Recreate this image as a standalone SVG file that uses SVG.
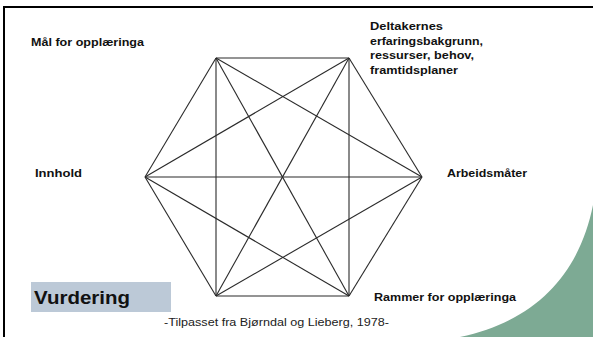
<svg xmlns="http://www.w3.org/2000/svg" width="593" height="337" viewBox="0 0 593 337">
<style>
.lbl{font-family:"Liberation Sans",Arial,sans-serif;font-weight:bold;font-size:11px;fill:#111}
.edge{stroke:#2a2a2a;stroke-width:1.1;fill:none}
.cite{font-family:"Liberation Sans",Arial,sans-serif;font-size:11px;fill:#222}
</style>
<rect width="593" height="337" fill="#fff"/>
<path d="M593,205 C580,270 540,320 460,337 L593,337 Z" fill="#7daa94"/>
<path d="M4,337 V7 H593" fill="none" stroke="#000" stroke-width="2"/>
<g id="connectors">
<line class="edge" x1="216" y1="58" x2="349" y2="58"/>
<line class="edge" x1="349" y1="58" x2="422" y2="177"/>
<line class="edge" x1="422" y1="177" x2="349" y2="296"/>
<line class="edge" x1="349" y1="296" x2="216" y2="296"/>
<line class="edge" x1="216" y1="296" x2="145" y2="177"/>
<line class="edge" x1="145" y1="177" x2="216" y2="58"/>
<line class="edge" x1="216" y1="58" x2="349" y2="296"/>
<line class="edge" x1="349" y1="58" x2="216" y2="296"/>
<line class="edge" x1="145" y1="177" x2="422" y2="177"/>
<line class="edge" x1="216" y1="58" x2="422" y2="177"/>
<line class="edge" x1="216" y1="58" x2="216" y2="296"/>
<line class="edge" x1="349" y1="58" x2="145" y2="177"/>
<line class="edge" x1="349" y1="58" x2="349" y2="296"/>
<line class="edge" x1="145" y1="177" x2="349" y2="296"/>
<line class="edge" x1="422" y1="177" x2="216" y2="296"/>
</g>
<g id="node-maal"><text class="lbl" x="31" y="46" textLength="113" lengthAdjust="spacingAndGlyphs">Mål for opplæringa</text></g>
<g id="node-deltakernes">
<text class="lbl" x="370" y="30" textLength="73" lengthAdjust="spacingAndGlyphs">Deltakernes</text>
<text class="lbl" x="370" y="45" textLength="113" lengthAdjust="spacingAndGlyphs">erfaringsbakgrunn,</text>
<text class="lbl" x="370" y="59" textLength="104" lengthAdjust="spacingAndGlyphs">ressurser, behov,</text>
<text class="lbl" x="370" y="74" textLength="88" lengthAdjust="spacingAndGlyphs">framtidsplaner</text>
</g>
<g id="node-innhold"><text class="lbl" x="35" y="177" textLength="47" lengthAdjust="spacingAndGlyphs">Innhold</text></g>
<g id="node-arbeidsmaater"><text class="lbl" x="447" y="177" textLength="80" lengthAdjust="spacingAndGlyphs">Arbeidsmåter</text></g>
<g id="node-rammer"><text class="lbl" x="374" y="301" textLength="142" lengthAdjust="spacingAndGlyphs">Rammer for opplæringa</text></g>
<g id="node-vurdering">
<rect x="31" y="282" width="140" height="30" fill="#bcc9d7"/>
<text x="34" y="304" font-family="'Liberation Sans',Arial,sans-serif" font-weight="bold" font-size="19" fill="#111" textLength="96" lengthAdjust="spacingAndGlyphs">Vurdering</text>
</g>
<text class="cite" x="164" y="326" textLength="225" lengthAdjust="spacingAndGlyphs">-Tilpasset fra Bjørndal og Lieberg, 1978-</text>
</svg>
